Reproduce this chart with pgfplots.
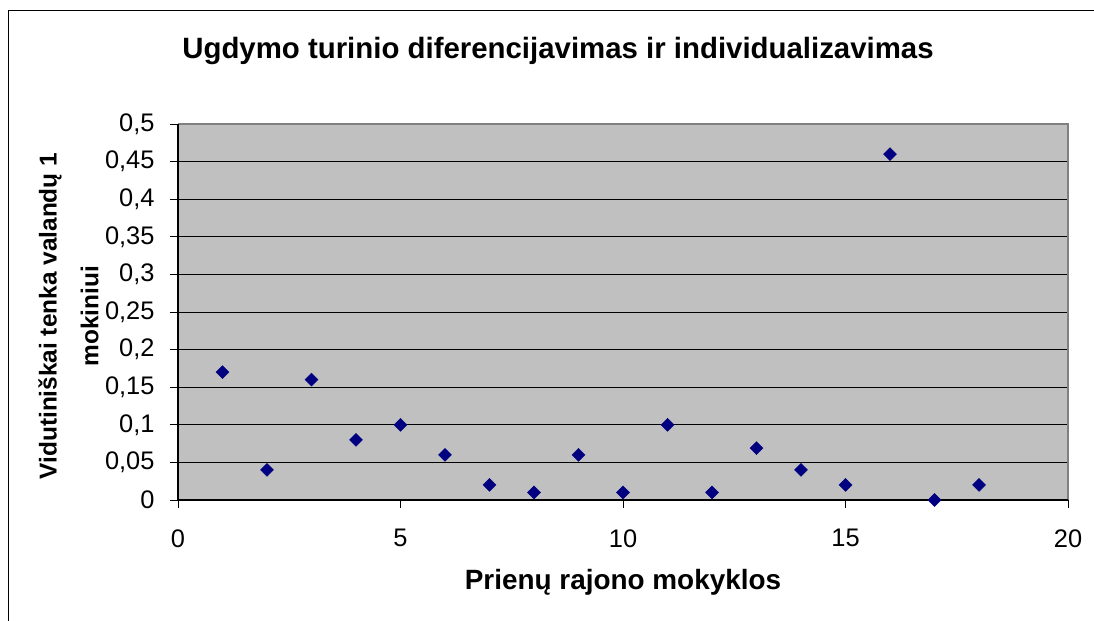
\documentclass[border=0pt]{standalone}
\usepackage{pgfplots}
\pgfplotsset{compat=1.18}
\usepackage{fontspec}
\setmainfont{Liberation Sans}
\definecolor{plotgrey}{HTML}{C0C0C0}
\definecolor{navy}{HTML}{000080}
\begin{document}
\begin{tikzpicture}[x=1bp,y=1bp]
\useasboundingbox (0,0) rectangle (1094,621);
\begin{scope}
\clip (0,0) rectangle (1094,621);
\draw[line width=1.2bp] (8.5,-20) -- (8.5,610.5) -- (1120,610.5);
\end{scope}
\node[font=\fontsize{29.5}{34}\selectfont\bfseries] at (558,570) {Ugdymo turinio diferencijavimas ir individualizavimas};
\begin{axis}[
  at={(178bp,121bp)}, anchor=south west,
  scale only axis, width=890bp, height=376bp,
  xmin=0, xmax=20, ymin=0, ymax=0.5,
  axis background/.style={fill=plotgrey},
  axis line style={draw=none},
  xtick={0,5,10,15,20},
  ytick={0,0.05,0.1,0.15,0.2,0.25,0.3,0.35,0.4,0.45,0.5},
  yticklabels={0,{0,05},{0,1},{0,15},{0,2},{0,25},{0,3},{0,35},{0,4},{0,45},{0,5}},
  xticklabels={0,5,10,15,20},
  xtick pos=lower, ytick pos=left,
  ymajorgrids, major grid style={black, line width=0.9bp},
  tick style={black, line width=0.9bp},
  tick align=outside, major tick length=8bp,
  ticklabel style={font=\fontsize{25.5}{30}\selectfont},
  xticklabel style={yshift=-18bp},
  yticklabel style={xshift=-12bp},
  xlabel={Prienų rajono mokyklos},
  xlabel style={font=\fontsize{28}{32}\selectfont\bfseries, at={(axis description cs:0.5,0)}, anchor=center, yshift=-82bp},
  ylabel={Vidutiniškai tenka valandų 1\\mokiniui},
  every axis y label/.style={at={(axis description cs:-0.123,0.489)}, rotate=90, anchor=center, font=\fontsize{24.5}{42}\selectfont\bfseries, align=center},
  clip=false,
]
\draw[draw={rgb,255:red,128;green,128;blue,128}, line width=1.2bp] (axis cs:0,0.5) -- (axis cs:20,0.5) -- (axis cs:20,0);
\draw[black, line width=1.2bp] (axis cs:0,0.5) -- (axis cs:0,0) -- (axis cs:20,0);
\addplot[only marks, mark=square*, mark size=4.6bp, mark options={rotate=45, fill=navy, draw=navy}] coordinates {
(1,0.17) (2,0.04) (3,0.16) (4,0.08) (5,0.10) (6,0.06) (7,0.02) (8,0.01) (9,0.06)
(10,0.01) (11,0.10) (12,0.01) (13,0.069) (14,0.04) (15,0.02) (16,0.46) (17,0.0) (18,0.02)
};
\end{axis}
\end{tikzpicture}
\end{document}
